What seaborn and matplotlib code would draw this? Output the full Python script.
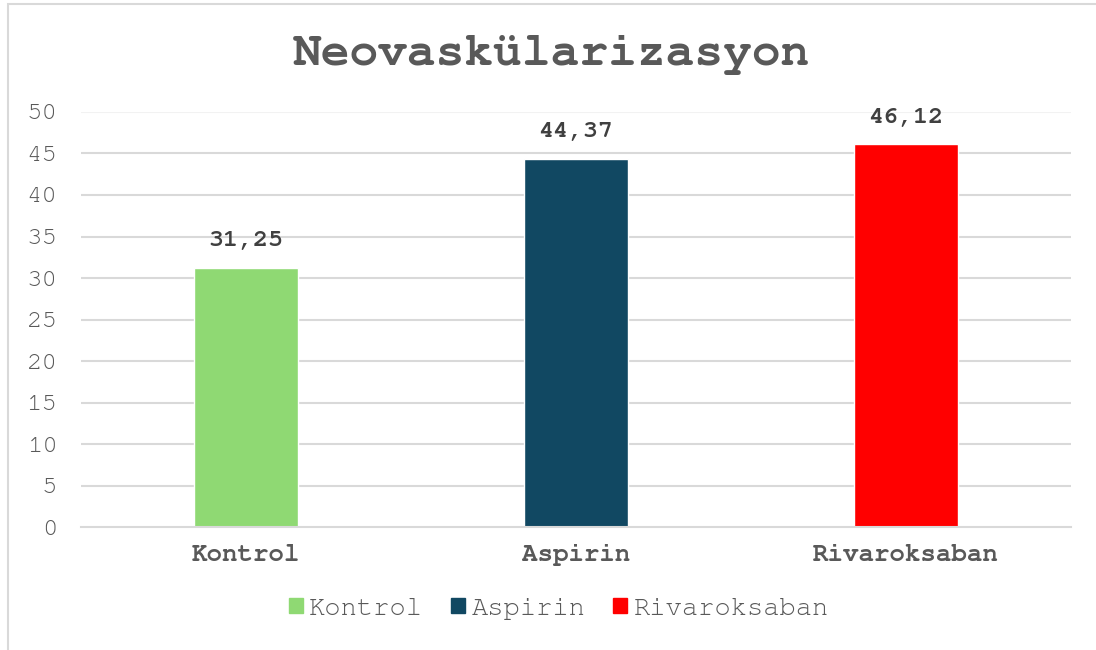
import matplotlib
matplotlib.use("Agg")
import matplotlib.pyplot as plt
import matplotlib.patches as mpatches
from matplotlib import font_manager
import seaborn as sns
import pandas as pd

# Data
groups = ["Kontrol", "Aspirin", "Rivaroksaban"]
values = [31.25, 44.37, 46.12]
colors = ["#8FD973", "#114862", "#FF0000"]
yticks = [0, 5, 10, 15, 20, 25, 30, 35, 40, 45, 50]

df = pd.DataFrame({"grup": groups, "deger": values})

# pick a Courier-like font if one is installed
installed = {f.name for f in font_manager.fontManager.ttflist}
fams = [f for f in ["Courier New", "Nimbus Mono PS", "Nimbus Mono L", "FreeMono",
                    "Courier", "Liberation Mono", "DejaVu Sans Mono"] if f in installed]

sns.set_theme(style="white")
plt.rcParams["font.family"] = fams

fig = plt.figure(figsize=(10.96, 6.5), dpi=100)
ax = fig.add_axes([0.0739, 0.1892, 0.9031, 0.6385])

sns.barplot(data=df, x="grup", y="deger", hue="grup",
            palette=dict(zip(groups, colors)), width=0.315,
            saturation=1, legend=False, ax=ax)

ax.set_xlim(-0.5, 2.5)
ax.set_ylim(0, 50)
ax.set_yticks(yticks)
ax.set_yticklabels([str(t) for t in yticks], fontsize=18.5, color="#595959")
ax.set_xticks(range(len(groups)))
ax.set_xticklabels(groups, fontsize=18.5, fontweight="bold", color="#595959")
ax.tick_params(axis="y", length=0, pad=17)
ax.tick_params(axis="x", length=0, pad=12)
ax.set_xlabel("")
ax.set_ylabel("")

# gridlines
for t in yticks[1:]:
    ax.axhline(t, color="#F2F2F2" if t == 50 else "#D9D9D9", lw=1.5, zorder=0)
for s in ["top", "right", "left"]:
    ax.spines[s].set_visible(False)
ax.spines["bottom"].set_color("#D9D9D9")
ax.spines["bottom"].set_linewidth(1.5)

# value labels
for i, v in enumerate(values):
    ax.annotate(f"{v:.2f}".replace(".", ","), (i, v), xytext=(0, 19),
                textcoords="offset points", ha="center", va="center",
                fontsize=18, fontweight="bold", color="#404040")

fig.text(0.5036, 0.916, "Neovaskülarizasyon", ha="center", va="center",
         fontsize=34.5, fontweight="bold", color="#595959")

handles = [mpatches.Patch(color=c, label=g) for g, c in zip(groups, colors)]
fig.legend(handles=handles, loc="center", bbox_to_anchor=(0.51, 0.063),
           ncol=3, frameon=False, fontsize=19.5, handlelength=0.5,
           handleheight=0.5, handletextpad=0.25, columnspacing=1.03,
           labelcolor="#595959")

# chart frame
fig.add_artist(mpatches.Rectangle((8 / 1096, -0.1), 1.1, 1.1 - 4 / 650,
                                  transform=fig.transFigure, fill=False,
                                  edgecolor="#D9D9D9", lw=1.5))

fig.savefig("out.png", dpi=100)
